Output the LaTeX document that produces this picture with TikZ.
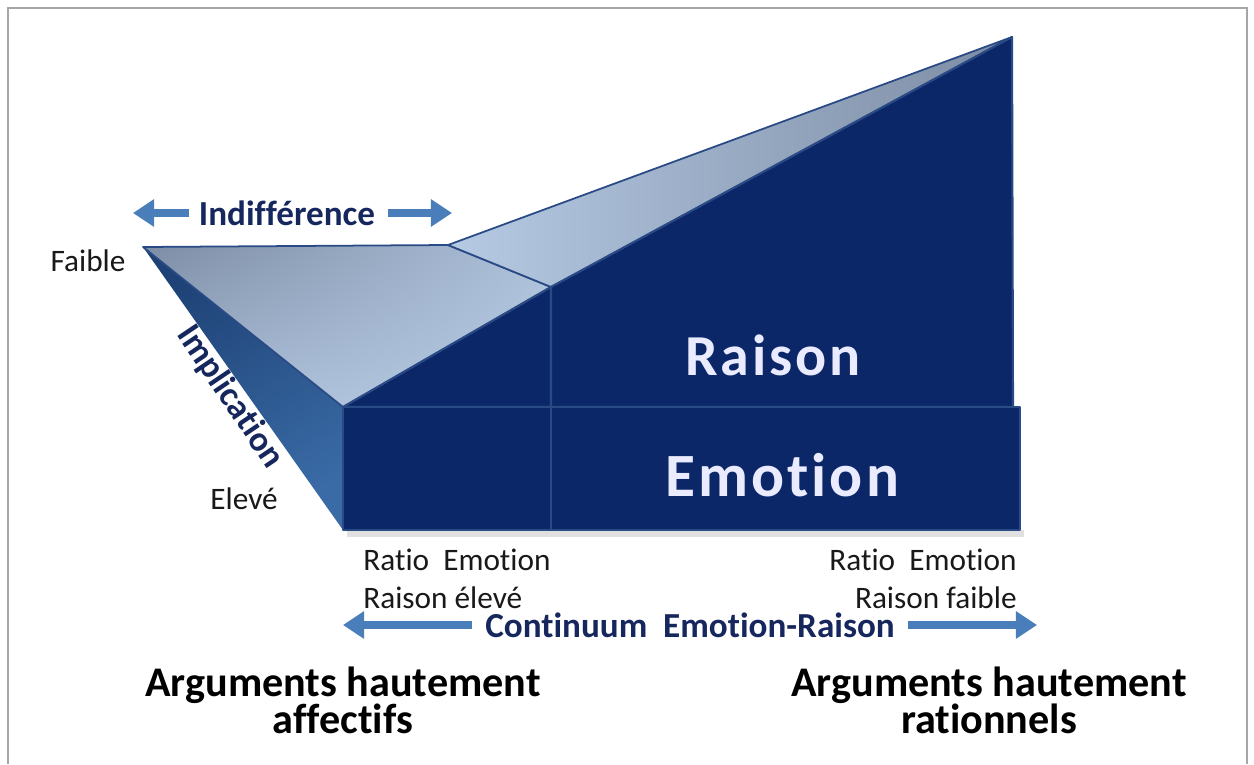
\documentclass[tikz,border=0pt]{standalone}
\usepackage{fontspec}
\setmainfont{Carlito}[Ligatures=NoCommon]
\usetikzlibrary{arrows.meta,positioning,shadings}
\definecolor{navyface}{HTML}{0B2768}
\definecolor{navyedge}{HTML}{2A4A86}
\definecolor{topgrey}{HTML}{7C8CA4}
\definecolor{toplight}{HTML}{B6CAE3}
\definecolor{sidedark}{HTML}{1E4276}
\definecolor{sidelight}{HTML}{3A6BA6}
\definecolor{arrowblue}{HTML}{4A7EBB}
\definecolor{labelnavy}{HTML}{16275E}
\definecolor{framegrey}{HTML}{A6A6A6}

\begin{document}
\begin{tikzpicture}[x=0.02cm,y=-0.02cm,
  block/.style={fill=navyface,draw=navyedge,line width=1.2pt,line join=round},
  topface/.style={draw=navyedge,line width=1pt,line join=round},
  axisarrow/.style={-{Triangle[length=12pt,width=15pt]},arrowblue,line width=4.5pt},
  smalltxt/.style={text=black!90,font=\fontsize{17.8}{20}\selectfont,inner sep=0pt},
  navytxt/.style={text=labelnavy,font=\fontsize{20}{22}\selectfont\bfseries},
  bigtxt/.style={text=white!92!blue,font=\fontsize{#1}{40}\selectfont\bfseries\addfontfeature{LetterSpace=5}},
  caption/.style={align=center,font=\fontsize{24}{21}\selectfont\bfseries}]
  \useasboundingbox (0,0) rectangle (1254,764);
  % Frame
  \draw[framegrey,line width=1.5pt] (8,764) -- (8,8) -- (1247,8) -- (1247,764);
  % Corners
  \coordinate (faible) at (143,247);
  \coordinate (topmid) at (448,245);
  \coordinate (junc) at (551,287);
  \coordinate (apex) at (1012,37);
  \coordinate (frontTL) at (343,407);
  \coordinate (frontBL) at (343,530);
  \coordinate (midT) at (551,407);
  \coordinate (midB) at (551,530);
  % Shadow
  \fill[black!12] (347,530) rectangle (1024,537);
  % Side face
  \shade[left color=sidedark,right color=sidelight,shading angle=30]
    (faible) -- (frontTL) -- (frontBL) -- cycle;
  % Top faces
  \shade[topface,upper left=topgrey,lower right=toplight,upper right=toplight!85!topgrey,lower left=toplight!80!topgrey]
    (faible) -- (topmid) -- (junc) -- (frontTL) -- cycle;
  \shade[topface,left color=toplight,right color=topgrey]
    (topmid) -- (apex) -- (junc) -- cycle;
  % Front blocks
  \draw[block] (frontTL) -- (junc) -- (midT) -- cycle;
  \draw[block] (junc) -- (apex) -- (1013,407) -- (midT) -- cycle;
  \draw[block] (frontTL) rectangle (midB);
  \draw[block] (midT) rectangle (1020,530);
  % Block labels
  \node[bigtxt=33] (raison) at (773,355) {Raison};
  \node[bigtxt=35] (emotion) at (782,475) {Emotion};
  % Implication axis
  \node[navytxt] (indiff) at (287,213) {Indifférence};
  \coordinate (indL) at (133,213);
  \coordinate (indR) at (452,213);
  \draw[axisarrow,shorten <=2pt] (indiff) -- (indL);
  \draw[axisarrow,shorten <=4pt] (indiff) -- (indR);
  \node[smalltxt] (faibletxt) at (88,261) {Faible};
  \node[smalltxt] (eleve) at (244,499) {Elevé};
  \node[navytxt,rotate=-56] (implic) at (230,397) {Implication};
  % Ratio labels
  \node[smalltxt,anchor=west] (ratioL) at (363,560) {Ratio~~Emotion};
  \node[smalltxt,anchor=west] (raisonL) at (363,598) {Raison élevé};
  \node[smalltxt,anchor=east] (ratioR) at (1017,560) {Ratio~~Emotion};
  \node[smalltxt,anchor=east] (raisonR) at (1017,598) {Raison faible};
  % Continuum axis
  \node[navytxt] (contin) at (690,625) {Continuum~~Emotion-Raison};
  \coordinate (contL) at (343,625);
  \coordinate (contR) at (1037,625);
  \draw[axisarrow,shorten <=4pt] (contin) -- (contL);
  \draw[axisarrow,shorten <=4pt] (contin) -- (contR);
  % Captions
  \node[caption] (affect) at (343,700) {Arguments hautement\\affectifs};
  \node[caption] (ration) at (989,700) {Arguments hautement\\rationnels};
\end{tikzpicture}
\end{document}
